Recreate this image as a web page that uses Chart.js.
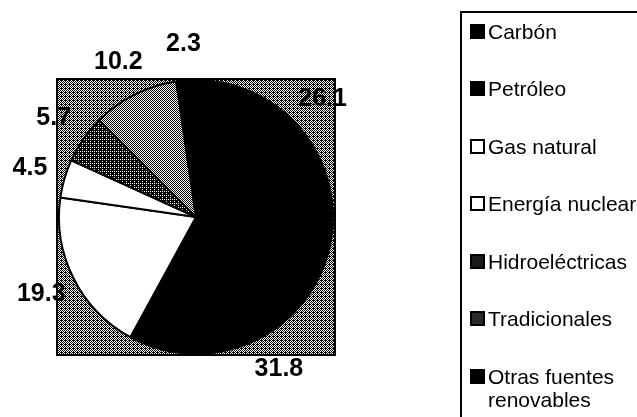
<!DOCTYPE html>
<html>
<head>
<meta charset="utf-8">
<script src="https://cdn.jsdelivr.net/npm/chart.js@4/dist/chart.umd.min.js"></script>
<style>
  body { margin: 0; background: #fff; overflow: hidden; }
  #wrap { position: relative; width: 637px; height: 417px; }
  #chart { position: absolute; left: 0; top: 0; }
  #legend {
    position: absolute; left: 460px; top: 11px; width: 200px; height: 430px;
    border-left: 2px solid #000; border-top: 2px solid #000;
    font-family: "Liberation Sans", Arial, sans-serif; font-size: 21px; color: #000;
  }
  .item { position: absolute; left: 0; width: 180px; }
  .mark { position: absolute; left: 8px; top: 4px; width: 15px; height: 15px; box-sizing: border-box; border: 2px solid #000; }
  .txt { position: absolute; left: 26px; width: 150px; line-height: 23px; white-space: normal; }
</style>
</head>
<body>
<div id="wrap">
  <canvas id="chart" width="637" height="417"></canvas>
  <div id="legend"></div>
</div>
<script>
// world primary energy shares (%)
const categories = ['Carbón', 'Petróleo', 'Gas natural', 'Energía nuclear', 'Hidroeléctricas', 'Tradicionales', 'Otras fuentes renovables'];
const shares = [26.1, 31.8, 19.3, 4.5, 5.7, 10.2, 2.3];
const valueLabels = ['26.1', '31.8', '19.3', '4.5', '5.7', '10.2', '2.3'];

// ordered dither so the greys look like the scanned halftone
function dither(density) {
  const bayer = [[0, 8, 2, 10], [12, 4, 14, 6], [3, 11, 1, 9], [15, 7, 13, 5]];
  const c = document.createElement('canvas');
  c.width = 4; c.height = 4;
  const g = c.getContext('2d');
  g.fillStyle = '#fff';
  g.fillRect(0, 0, 4, 4);
  g.fillStyle = '#000';
  for (let y = 0; y < 4; y++) {
    for (let x = 0; x < 4; x++) {
      if (bayer[y][x] < density * 16) g.fillRect(x, y, 1, 1);
    }
  }
  return document.getElementById('chart').getContext('2d').createPattern(c, 'repeat');
}

const sliceFill = ['#000', '#000', '#fff', '#fff', dither(0.8), dither(0.45), '#000'];
const markFill = ['#000', '#000', '#fff', '#fff', '#1a1a1a', '#2b2b2b', '#000'];
const plotBg = dither(0.56);

// legend box on the right
let legend = document.getElementById('legend');
for (let i = 0; i < categories.length; i++) {
  let item = document.createElement('div');
  item.className = 'item';
  item.style.top = (30 + i * 57.5 - 11.5 - 12) + 'px';
  item.innerHTML = '<div class="mark" style="background:' + markFill[i] + '"></div>' +
    '<div class="txt">' + categories[i] + '</div>';
  legend.appendChild(item);
}

const plotFrame = {
  id: 'plotFrame',
  beforeDatasetsDraw(chart) {
    const a = chart.chartArea;
    const ctx = chart.ctx;
    ctx.save();
    ctx.fillStyle = plotBg;
    ctx.fillRect(a.left, a.top, a.right - a.left, a.bottom - a.top);
    ctx.restore();
  },
  afterDraw(chart) {
    const a = chart.chartArea;
    const ctx = chart.ctx;
    ctx.save();
    ctx.strokeStyle = '#000';
    ctx.lineWidth = 2;
    ctx.strokeRect(a.left, a.top, a.right - a.left, a.bottom - a.top);
    ctx.restore();
  }
};

const sliceLabels = {
  id: 'sliceLabels',
  afterDatasetsDraw(chart) {
    const ctx = chart.ctx;
    const arcs = chart.getDatasetMeta(0).data;
    ctx.save();
    ctx.font = 'bold 25px "Liberation Sans", Arial, sans-serif';
    ctx.fillStyle = '#000';
    ctx.textAlign = 'center';
    ctx.textBaseline = 'middle';
    arcs.forEach(function (arc, i) {
      const p = arc.getProps(['x', 'y', 'startAngle', 'endAngle', 'outerRadius'], true);
      const mid = (p.startAngle + p.endAngle) / 2;
      const r = p.outerRadius + 36;
      ctx.fillText(valueLabels[i], p.x + Math.cos(mid) * r, p.y + Math.sin(mid) * r);
    });
    ctx.restore();
  }
};

new Chart(document.getElementById('chart'), {
  type: 'pie',
  data: {
    labels: categories,
    datasets: [{
      data: shares,
      backgroundColor: sliceFill,
      borderColor: '#000',
      borderWidth: 2
    }]
  },
  options: {
    responsive: false,
    animation: false,
    devicePixelRatio: 1,
    layout: { padding: { left: 57, top: 79, right: 302, bottom: 62 } },
    plugins: {
      legend: { display: false },
      tooltip: { enabled: false }
    }
  },
  plugins: [plotFrame, sliceLabels]
});
</script>
</body>
</html>
